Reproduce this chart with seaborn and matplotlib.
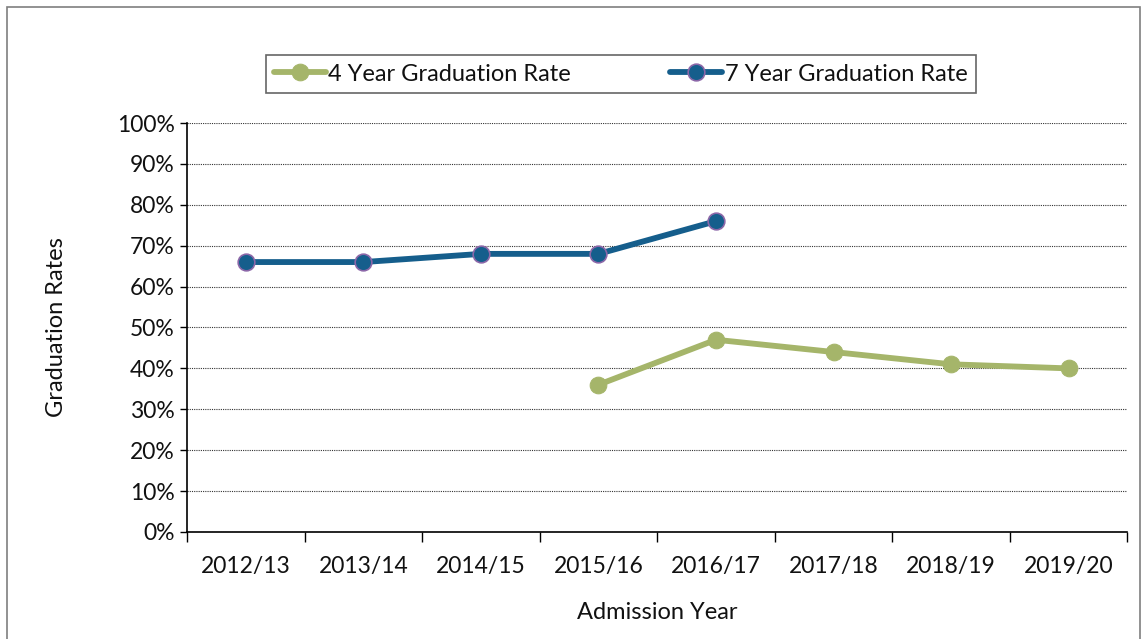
import numpy as np
import pandas as pd
import seaborn as sns
import matplotlib.pyplot as plt
from matplotlib.patches import Rectangle
from matplotlib.ticker import FixedLocator, PercentFormatter

years = ['2012/13', '2013/14', '2014/15', '2015/16', '2016/17', '2017/18', '2018/19', '2019/20']
rate_4yr = [np.nan, np.nan, np.nan, 36, 47, 44, 41, 40]
rate_7yr = [66, 66, 68, 68, 76, np.nan, np.nan, np.nan]

df = pd.DataFrame({'pos': range(len(years)), 'year': years,
                   '4yr': rate_4yr, '7yr': rate_7yr})

sns.set_style('white')
plt.rcParams['font.family'] = ['Lato', 'DejaVu Sans']
plt.rcParams['text.color'] = '#111111'
plt.rcParams['xtick.color'] = '#111111'
plt.rcParams['ytick.color'] = '#111111'
plt.rcParams['axes.labelcolor'] = '#111111'

fig = plt.figure(figsize=(11.41, 6.39), dpi=100)
ax = fig.add_axes([0.164, 0.1675, 0.824, 0.64])

green = '#A5B56A'
blue = '#155E8C'

d4 = df.dropna(subset=['4yr'])
d7 = df.dropna(subset=['7yr'])
sns.lineplot(data=d4, x='pos', y='4yr', ax=ax, color=green, linewidth=4.2,
             marker='o', markersize=12, markeredgecolor=green,
             label='4 Year Graduation Rate')
sns.lineplot(data=d7, x='pos', y='7yr', ax=ax, color=blue, linewidth=4.2,
             marker='o', markersize=12, markeredgecolor='#8B67A8', markeredgewidth=1.2,
             label='7 Year Graduation Rate')

ax.set_xlim(-0.5, len(years) - 0.5)
ax.set_ylim(0, 100)
ax.set_yticks(range(0, 101, 10))
ax.yaxis.set_major_formatter(PercentFormatter(decimals=0))
ax.set_xticks(range(len(years)))
ax.set_xticklabels(years)
ax.xaxis.set_minor_locator(FixedLocator(np.arange(-0.5, len(years), 1)))
ax.tick_params(axis='x', which='major', length=0, pad=17, labelsize=16.5)
ax.tick_params(axis='x', which='minor', length=7, width=1, color='black', direction='out', bottom=True)
ax.tick_params(axis='y', length=5, width=1, color='black', direction='out', left=True, labelsize=16.5, pad=4)

ax.grid(axis='y', color='#333333', linestyle=(0, (1, 1)), linewidth=0.8)
ax.set_axisbelow(True)
for s in ['top', 'right']:
    ax.spines[s].set_visible(False)
for s in ['left', 'bottom']:
    ax.spines[s].set_color('black')
    ax.spines[s].set_linewidth(1.2)

ax.set_xlabel('Admission Year', fontsize=17, labelpad=18)
ax.set_ylabel('Graduation Rates', fontsize=17, labelpad=36)

ax.get_legend().remove()
handles, labels = ax.get_legend_handles_labels()
leg = fig.legend(handles, labels, loc='center', bbox_to_anchor=(0.544, 0.884), ncol=2,
                 fontsize=17, frameon=True, fancybox=False, edgecolor='#404040',
                 handlelength=2.2, handletextpad=0.1, columnspacing=4.2,
                 borderpad=0.35, borderaxespad=0)
leg.get_frame().set_linewidth(1.2)

fig.patches.append(Rectangle((7 / 1141, -0.01), 1133 / 1141, 1 - 7 / 639 + 0.01,
                             transform=fig.transFigure, fill=False,
                             edgecolor='#7F7F7F', linewidth=1.2))

fig.savefig('out.png', dpi=100)
